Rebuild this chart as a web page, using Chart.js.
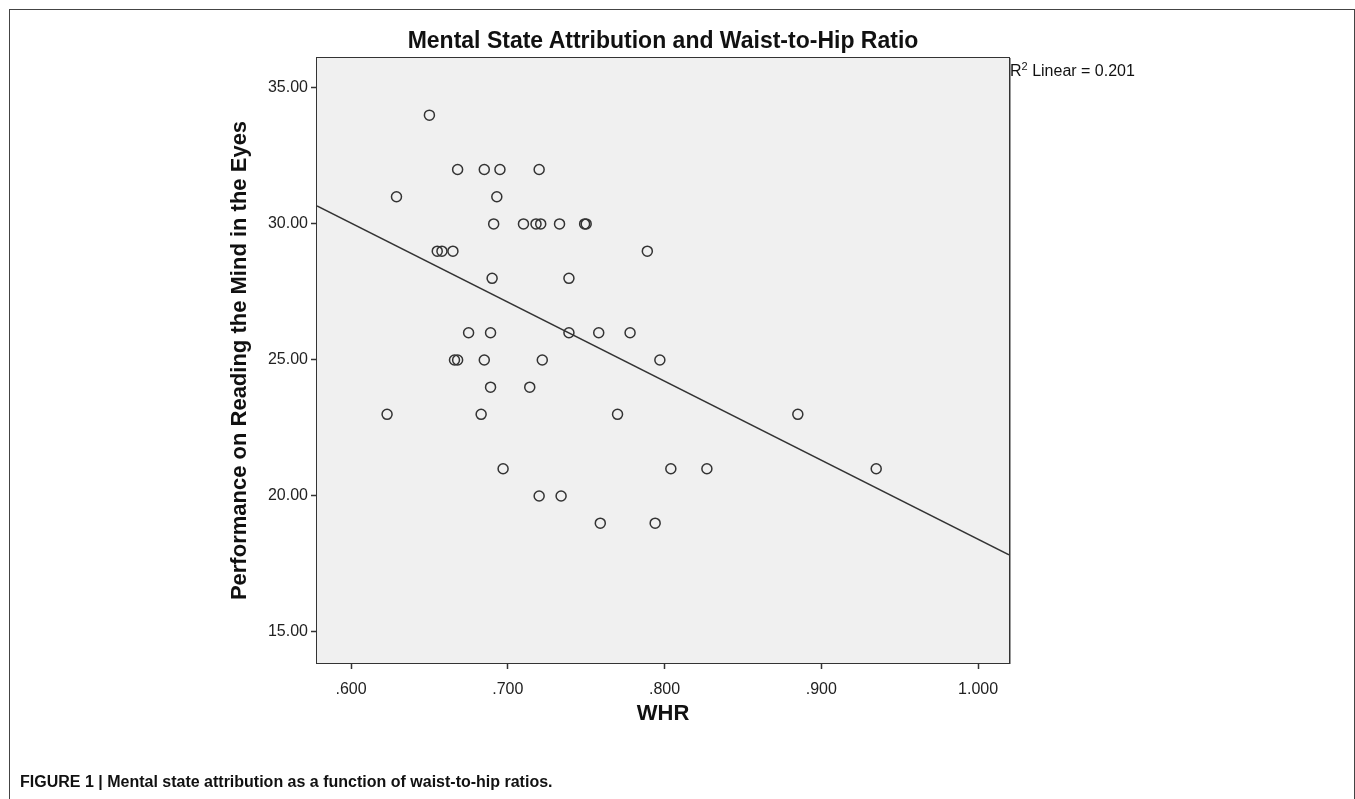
<!DOCTYPE html>
<html>
<head>
<meta charset="utf-8">
<script src="https://cdn.jsdelivr.net/npm/chart.js@4.4.0/dist/chart.umd.min.js"></script>
<style>
  html, body { margin: 0; padding: 0; background: #fff; }
  #wrap { position: relative; width: 1355px; height: 799px; overflow: hidden; }
  #frame { position: absolute; left: 9px; top: 9px; width: 1344px; height: 830px; border: 1px solid #444; }
  canvas { position: absolute; left: 0; top: 0; }
  #title { position: absolute; left: 317px; width: 692px; top: 27px; text-align: center;
           font: bold 23px "Liberation Sans", Arial, sans-serif; color: #111; white-space: nowrap; }
  #r2 { position: absolute; left: 1010px; top: 62px; font: 16px "Liberation Sans", Arial, sans-serif; color: #111; }
  #r2 sup { font-size: 11px; vertical-align: 6px; line-height: 0; }
  #caption { position: absolute; left: 20px; top: 773px; font: bold 16px "Liberation Sans", Arial, sans-serif; color: #111; white-space: nowrap; }
</style>
</head>
<body>
<div id="wrap">
  <div id="frame"></div>
  <canvas id="chart" width="1355" height="799"></canvas>
  <div id="title">Mental State Attribution and Waist-to-Hip Ratio</div>
  <div id="r2">R<sup>2</sup> Linear = 0.201</div>
  <div id="caption">FIGURE 1 | Mental state attribution as a function of waist-to-hip ratios.</div>
</div>
<script>
// waist-to-hip ratio of each participant
const whr = [
  0.650, 0.668, 0.685, 0.695, 0.720,
  0.629, 0.693,
  0.691, 0.710, 0.718, 0.721, 0.733, 0.749, 0.750,
  0.655, 0.658, 0.665, 0.789,
  0.690, 0.739,
  0.675, 0.689, 0.739, 0.758, 0.778,
  0.666, 0.668, 0.685, 0.722, 0.797,
  0.689, 0.714,
  0.623, 0.683, 0.770, 0.885,
  0.697, 0.804, 0.827, 0.935,
  0.720, 0.734,
  0.759, 0.794
];
// Reading the Mind in the Eyes score
const rme = [
  34, 32, 32, 32, 32,
  31, 31,
  30, 30, 30, 30, 30, 30, 30,
  29, 29, 29, 29,
  28, 28,
  26, 26, 26, 26, 26,
  25, 25, 25, 25, 25,
  24, 24,
  23, 23, 23, 23,
  21, 21, 21, 21,
  20, 20,
  19, 19
];

// fitted line (R2 linear = 0.201)
const fitIntercept = 47.47;
const fitSlope = -29.06;

const xMin = 0.5783, xMax = 1.0197;
const yMin = 13.86, yMax = 36.1;
const xTicks = [0.6, 0.7, 0.8, 0.9, 1.0];
const yTicks = [15, 20, 25, 30, 35];

const textColor = '#222';
const family = '"Liberation Sans", Arial, sans-serif';

// grey plot panel with a dark frame, SPSS style
const plotPanel = {
  id: 'plotPanel',
  beforeDraw(chart) {
    const { ctx, chartArea: a } = chart;
    ctx.save();
    ctx.fillStyle = '#f0f0f0';
    ctx.fillRect(a.left, a.top, a.right - a.left, a.bottom - a.top);
    ctx.restore();
  },
  afterDatasetsDraw(chart) {
    const { ctx, chartArea: a } = chart;
    ctx.save();
    ctx.strokeStyle = '#333';
    ctx.lineWidth = 1;
    ctx.strokeRect(a.left - 0.5, a.top - 0.5, a.right - a.left + 1, a.bottom - a.top + 1);
    ctx.strokeStyle = '#999';
    ctx.beginPath();
    ctx.moveTo(a.right + 1.5, a.top);
    ctx.lineTo(a.right + 1.5, a.bottom + 1);
    ctx.stroke();
    ctx.restore();
  }
};

new Chart(document.getElementById('chart').getContext('2d'), {
  type: 'scatter',
  data: {
    datasets: [
      {
        type: 'scatter',
        data: whr.map((x, i) => ({ x: x, y: rme[i] })),
        pointRadius: 5,
        pointHoverRadius: 5,
        pointBorderWidth: 1.5,
        borderColor: '#333',
        backgroundColor: 'rgba(0,0,0,0)'
      },
      {
        type: 'line',
        data: [xMin, xMax].map(x => ({ x: x, y: fitIntercept + fitSlope * x })),
        borderColor: '#333',
        borderWidth: 1.5,
        pointRadius: 0,
        fill: false
      }
    ]
  },
  options: {
    responsive: false,
    animation: false,
    layout: { padding: { left: 0, right: 346, top: 58, bottom: 0 } },
    plugins: { legend: { display: false }, tooltip: { enabled: false } },
    scales: {
      x: {
        type: 'linear',
        min: xMin,
        max: xMax,
        afterFit: s => { s.height = 136; },
        afterBuildTicks: s => { s.ticks = xTicks.map(v => ({ value: v })); },
        ticks: {
          color: textColor,
          font: { family: family, size: 16 },
          padding: 11,
          maxRotation: 0,
          callback: v => v < 1 ? v.toFixed(3).replace(/^0/, '') : v.toFixed(3)
        },
        grid: { drawOnChartArea: false, drawTicks: true, tickLength: 6, tickColor: '#333', tickWidth: 1.5 },
        border: { display: false },
        title: {
          display: true,
          text: 'WHR',
          color: '#111',
          font: { family: family, size: 22, weight: 'bold' },
          padding: { top: 0, bottom: 72 }
        }
      },
      y: {
        type: 'linear',
        min: yMin,
        max: yMax,
        afterFit: s => { s.width = 317; },
        afterBuildTicks: s => { s.ticks = yTicks.map(v => ({ value: v })); },
        ticks: {
          color: textColor,
          font: { family: family, size: 16 },
          padding: 3,
          callback: v => v.toFixed(2)
        },
        grid: { drawOnChartArea: false, drawTicks: true, tickLength: 6, tickColor: '#333', tickWidth: 1.5 },
        border: { display: false },
        title: {
          display: true,
          text: 'Performance on Reading the Mind in the Eyes',
          color: '#111',
          font: { family: family, size: 22, weight: 'bold' },
          padding: { top: 227, bottom: 0 }
        }
      }
    }
  },
  plugins: [plotPanel]
});
</script>
</body>
</html>
